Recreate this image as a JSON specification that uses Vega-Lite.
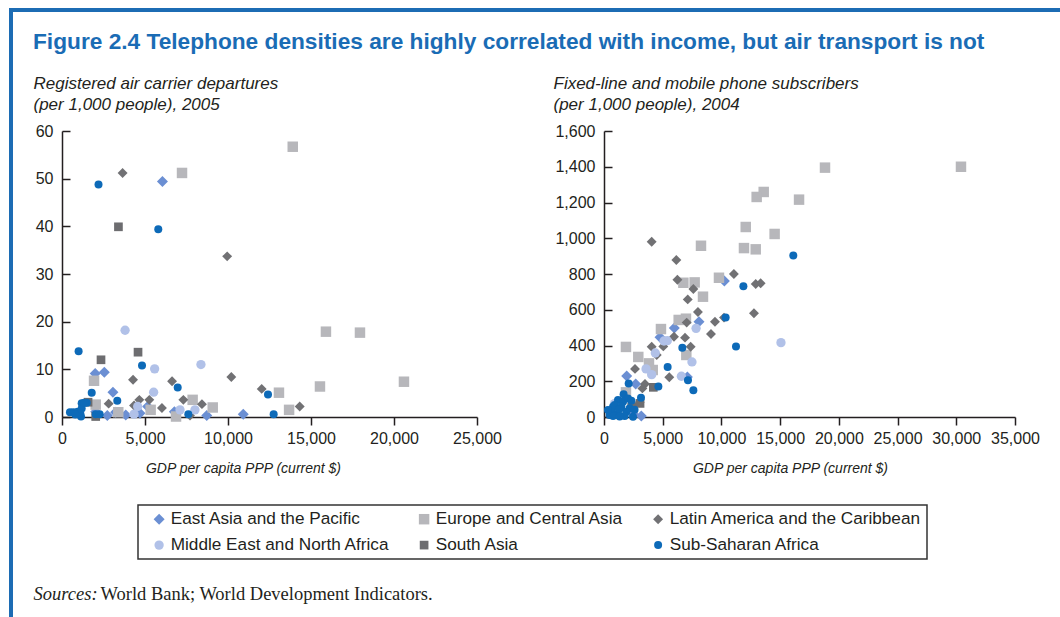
{
  "$schema": "https://vega.github.io/schema/vega-lite/v6.json",
  "padding": {"left": 9, "top": 8, "right": 0, "bottom": 0},
  "background": "white",
  "spacing": 0,
  "datasets": {
    "air": [
      {"region": "East Asia and the Pacific", "gdp": 6050, "v": 49.4},
      {"region": "East Asia and the Pacific", "gdp": 2000, "v": 9.1},
      {"region": "East Asia and the Pacific", "gdp": 2550, "v": 9.4},
      {"region": "East Asia and the Pacific", "gdp": 3070, "v": 5.2},
      {"region": "East Asia and the Pacific", "gdp": 5160, "v": 2.2},
      {"region": "East Asia and the Pacific", "gdp": 6770, "v": 1.1},
      {"region": "East Asia and the Pacific", "gdp": 8720, "v": 0.3},
      {"region": "East Asia and the Pacific", "gdp": 10920, "v": 0.6},
      {"region": "East Asia and the Pacific", "gdp": 3230, "v": 1.0},
      {"region": "East Asia and the Pacific", "gdp": 2730, "v": 0.3},
      {"region": "East Asia and the Pacific", "gdp": 3840, "v": 0.4},
      {"region": "East Asia and the Pacific", "gdp": 4700, "v": 0.8},
      {"region": "East Asia and the Pacific", "gdp": 2030, "v": 1.1},
      {"region": "Europe and Central Asia", "gdp": 7230, "v": 51.2},
      {"region": "Europe and Central Asia", "gdp": 13900, "v": 56.7},
      {"region": "Europe and Central Asia", "gdp": 15900, "v": 17.9},
      {"region": "Europe and Central Asia", "gdp": 17950, "v": 17.7},
      {"region": "Europe and Central Asia", "gdp": 20600, "v": 7.4},
      {"region": "Europe and Central Asia", "gdp": 15540, "v": 6.4},
      {"region": "Europe and Central Asia", "gdp": 13070, "v": 5.1},
      {"region": "Europe and Central Asia", "gdp": 13680, "v": 1.5},
      {"region": "Europe and Central Asia", "gdp": 1930, "v": 7.6},
      {"region": "Europe and Central Asia", "gdp": 7870, "v": 3.6},
      {"region": "Europe and Central Asia", "gdp": 9080, "v": 2.0},
      {"region": "Europe and Central Asia", "gdp": 2030, "v": 2.6},
      {"region": "Europe and Central Asia", "gdp": 5340, "v": 1.5},
      {"region": "Europe and Central Asia", "gdp": 6870, "v": 0.1},
      {"region": "Europe and Central Asia", "gdp": 3390, "v": 1.0},
      {"region": "Latin America and the Caribbean", "gdp": 3650, "v": 51.2},
      {"region": "Latin America and the Caribbean", "gdp": 9950, "v": 33.7},
      {"region": "Latin America and the Caribbean", "gdp": 4280, "v": 7.8},
      {"region": "Latin America and the Caribbean", "gdp": 6630, "v": 7.5},
      {"region": "Latin America and the Caribbean", "gdp": 10200, "v": 8.4},
      {"region": "Latin America and the Caribbean", "gdp": 12030, "v": 5.9},
      {"region": "Latin America and the Caribbean", "gdp": 14320, "v": 2.2},
      {"region": "Latin America and the Caribbean", "gdp": 7310, "v": 3.6},
      {"region": "Latin America and the Caribbean", "gdp": 8430, "v": 2.7},
      {"region": "Latin America and the Caribbean", "gdp": 2810, "v": 2.8},
      {"region": "Latin America and the Caribbean", "gdp": 4660, "v": 3.6},
      {"region": "Latin America and the Caribbean", "gdp": 5260, "v": 3.6},
      {"region": "Latin America and the Caribbean", "gdp": 4340, "v": 2.4},
      {"region": "Latin America and the Caribbean", "gdp": 6020, "v": 1.9},
      {"region": "Latin America and the Caribbean", "gdp": 7710, "v": 0.3},
      {"region": "Middle East and North Africa", "gdp": 3800, "v": 18.2},
      {"region": "Middle East and North Africa", "gdp": 5580, "v": 10.1},
      {"region": "Middle East and North Africa", "gdp": 8370, "v": 11.0},
      {"region": "Middle East and North Africa", "gdp": 5520, "v": 5.2},
      {"region": "Middle East and North Africa", "gdp": 4560, "v": 2.2},
      {"region": "Middle East and North Africa", "gdp": 7110, "v": 1.5},
      {"region": "Middle East and North Africa", "gdp": 8010, "v": 1.5},
      {"region": "Middle East and North Africa", "gdp": 4340, "v": 0.6},
      {"region": "South Asia", "gdp": 3400, "v": 39.9},
      {"region": "South Asia", "gdp": 2350, "v": 12.0},
      {"region": "South Asia", "gdp": 4580, "v": 13.6},
      {"region": "South Asia", "gdp": 1570, "v": 3.1},
      {"region": "South Asia", "gdp": 2030, "v": 0.1},
      {"region": "Sub-Saharan Africa", "gdp": 2200, "v": 48.8},
      {"region": "Sub-Saharan Africa", "gdp": 5800, "v": 39.4},
      {"region": "Sub-Saharan Africa", "gdp": 1000, "v": 13.8},
      {"region": "Sub-Saharan Africa", "gdp": 4820, "v": 10.8},
      {"region": "Sub-Saharan Africa", "gdp": 6970, "v": 6.2},
      {"region": "Sub-Saharan Africa", "gdp": 1790, "v": 5.1},
      {"region": "Sub-Saharan Africa", "gdp": 3330, "v": 3.4},
      {"region": "Sub-Saharan Africa", "gdp": 12410, "v": 4.7},
      {"region": "Sub-Saharan Africa", "gdp": 12750, "v": 0.6},
      {"region": "Sub-Saharan Africa", "gdp": 7610, "v": 0.6},
      {"region": "Sub-Saharan Africa", "gdp": 2030, "v": 0.6},
      {"region": "Sub-Saharan Africa", "gdp": 2270, "v": 0.6},
      {"region": "Sub-Saharan Africa", "gdp": 680, "v": 1.0},
      {"region": "Sub-Saharan Africa", "gdp": 945, "v": 1.1},
      {"region": "Sub-Saharan Africa", "gdp": 1145, "v": 0.1},
      {"region": "Sub-Saharan Africa", "gdp": 1185, "v": 2.9},
      {"region": "Sub-Saharan Africa", "gdp": 1490, "v": 3.0},
      {"region": "Sub-Saharan Africa", "gdp": 1185, "v": 1.8},
      {"region": "Sub-Saharan Africa", "gdp": 480, "v": 1.0},
      {"region": "Sub-Saharan Africa", "gdp": 1345, "v": 3.0},
      {"region": "Sub-Saharan Africa", "gdp": 1100, "v": 0.8},
      {"region": "Sub-Saharan Africa", "gdp": 800, "v": 0.5}
    ],
    "phone": [
      {"region": "East Asia and the Pacific", "gdp": 10250, "v": 761},
      {"region": "East Asia and the Pacific", "gdp": 8090, "v": 533},
      {"region": "East Asia and the Pacific", "gdp": 5990, "v": 498},
      {"region": "East Asia and the Pacific", "gdp": 4770, "v": 446},
      {"region": "East Asia and the Pacific", "gdp": 7100, "v": 224},
      {"region": "East Asia and the Pacific", "gdp": 1930, "v": 229},
      {"region": "East Asia and the Pacific", "gdp": 2700, "v": 185},
      {"region": "East Asia and the Pacific", "gdp": 2500, "v": 15},
      {"region": "East Asia and the Pacific", "gdp": 3180, "v": 5},
      {"region": "Europe and Central Asia", "gdp": 18820, "v": 1395},
      {"region": "Europe and Central Asia", "gdp": 30400, "v": 1400},
      {"region": "Europe and Central Asia", "gdp": 16610, "v": 1216},
      {"region": "Europe and Central Asia", "gdp": 13600, "v": 1259},
      {"region": "Europe and Central Asia", "gdp": 13000, "v": 1231},
      {"region": "Europe and Central Asia", "gdp": 12070, "v": 1063},
      {"region": "Europe and Central Asia", "gdp": 14530, "v": 1024},
      {"region": "Europe and Central Asia", "gdp": 8260, "v": 958},
      {"region": "Europe and Central Asia", "gdp": 11920, "v": 945},
      {"region": "Europe and Central Asia", "gdp": 12920, "v": 938},
      {"region": "Europe and Central Asia", "gdp": 9790, "v": 779},
      {"region": "Europe and Central Asia", "gdp": 6760, "v": 751},
      {"region": "Europe and Central Asia", "gdp": 7720, "v": 753},
      {"region": "Europe and Central Asia", "gdp": 8430, "v": 673},
      {"region": "Europe and Central Asia", "gdp": 6980, "v": 550},
      {"region": "Europe and Central Asia", "gdp": 6360, "v": 543},
      {"region": "Europe and Central Asia", "gdp": 4850, "v": 492},
      {"region": "Europe and Central Asia", "gdp": 7010, "v": 347},
      {"region": "Europe and Central Asia", "gdp": 1870, "v": 392},
      {"region": "Europe and Central Asia", "gdp": 2920, "v": 336},
      {"region": "Europe and Central Asia", "gdp": 3830, "v": 300},
      {"region": "Europe and Central Asia", "gdp": 4150, "v": 263},
      {"region": "Europe and Central Asia", "gdp": 1870, "v": 138},
      {"region": "Latin America and the Caribbean", "gdp": 4060, "v": 980},
      {"region": "Latin America and the Caribbean", "gdp": 6160, "v": 878},
      {"region": "Latin America and the Caribbean", "gdp": 11060, "v": 800},
      {"region": "Latin America and the Caribbean", "gdp": 6250, "v": 768},
      {"region": "Latin America and the Caribbean", "gdp": 12920, "v": 744},
      {"region": "Latin America and the Caribbean", "gdp": 13340, "v": 748},
      {"region": "Latin America and the Caribbean", "gdp": 7610, "v": 716},
      {"region": "Latin America and the Caribbean", "gdp": 7130, "v": 658},
      {"region": "Latin America and the Caribbean", "gdp": 8000, "v": 587},
      {"region": "Latin America and the Caribbean", "gdp": 7040, "v": 528},
      {"region": "Latin America and the Caribbean", "gdp": 9450, "v": 533},
      {"region": "Latin America and the Caribbean", "gdp": 10220, "v": 556},
      {"region": "Latin America and the Caribbean", "gdp": 12770, "v": 580},
      {"region": "Latin America and the Caribbean", "gdp": 9110, "v": 464},
      {"region": "Latin America and the Caribbean", "gdp": 5960, "v": 449},
      {"region": "Latin America and the Caribbean", "gdp": 6900, "v": 444},
      {"region": "Latin America and the Caribbean", "gdp": 7380, "v": 393},
      {"region": "Latin America and the Caribbean", "gdp": 5050, "v": 395},
      {"region": "Latin America and the Caribbean", "gdp": 4060, "v": 393},
      {"region": "Latin America and the Caribbean", "gdp": 4490, "v": 347},
      {"region": "Latin America and the Caribbean", "gdp": 2640, "v": 269},
      {"region": "Latin America and the Caribbean", "gdp": 5560, "v": 222},
      {"region": "Latin America and the Caribbean", "gdp": 3490, "v": 185},
      {"region": "Latin America and the Caribbean", "gdp": 3270, "v": 160},
      {"region": "Latin America and the Caribbean", "gdp": 3040, "v": 82},
      {"region": "Middle East and North Africa", "gdp": 7840, "v": 496},
      {"region": "Middle East and North Africa", "gdp": 15070, "v": 416},
      {"region": "Middle East and North Africa", "gdp": 5110, "v": 425},
      {"region": "Middle East and North Africa", "gdp": 5390, "v": 427},
      {"region": "Middle East and North Africa", "gdp": 4370, "v": 358},
      {"region": "Middle East and North Africa", "gdp": 7490, "v": 308},
      {"region": "Middle East and North Africa", "gdp": 3580, "v": 269},
      {"region": "Middle East and North Africa", "gdp": 4060, "v": 237},
      {"region": "Middle East and North Africa", "gdp": 6590, "v": 228},
      {"region": "Middle East and North Africa", "gdp": 900, "v": 75},
      {"region": "South Asia", "gdp": 4200, "v": 166},
      {"region": "South Asia", "gdp": 2360, "v": 54},
      {"region": "South Asia", "gdp": 3070, "v": 76},
      {"region": "Sub-Saharan Africa", "gdp": 16120, "v": 904},
      {"region": "Sub-Saharan Africa", "gdp": 11870, "v": 731},
      {"region": "Sub-Saharan Africa", "gdp": 10360, "v": 556},
      {"region": "Sub-Saharan Africa", "gdp": 11240, "v": 395},
      {"region": "Sub-Saharan Africa", "gdp": 6670, "v": 388},
      {"region": "Sub-Saharan Africa", "gdp": 5420, "v": 280},
      {"region": "Sub-Saharan Africa", "gdp": 7150, "v": 205},
      {"region": "Sub-Saharan Africa", "gdp": 7610, "v": 149},
      {"region": "Sub-Saharan Africa", "gdp": 2100, "v": 188},
      {"region": "Sub-Saharan Africa", "gdp": 4630, "v": 170},
      {"region": "Sub-Saharan Africa", "gdp": 3150, "v": 108},
      {"region": "Sub-Saharan Africa", "gdp": 1670, "v": 127},
      {"region": "Sub-Saharan Africa", "gdp": 770, "v": 58},
      {"region": "Sub-Saharan Africa", "gdp": 1190, "v": 95},
      {"region": "Sub-Saharan Africa", "gdp": 1620, "v": 86},
      {"region": "Sub-Saharan Africa", "gdp": 2040, "v": 104},
      {"region": "Sub-Saharan Africa", "gdp": 2330, "v": 91},
      {"region": "Sub-Saharan Africa", "gdp": 2190, "v": 49},
      {"region": "Sub-Saharan Africa", "gdp": 1190, "v": 21},
      {"region": "Sub-Saharan Africa", "gdp": 620, "v": 30},
      {"region": "Sub-Saharan Africa", "gdp": 910, "v": 67},
      {"region": "Sub-Saharan Africa", "gdp": 1480, "v": 58},
      {"region": "Sub-Saharan Africa", "gdp": 1900, "v": 30},
      {"region": "Sub-Saharan Africa", "gdp": 2470, "v": 2},
      {"region": "Sub-Saharan Africa", "gdp": 480, "v": 11},
      {"region": "Sub-Saharan Africa", "gdp": 1050, "v": 11},
      {"region": "Sub-Saharan Africa", "gdp": 770, "v": 5},
      {"region": "Sub-Saharan Africa", "gdp": 1760, "v": 6},
      {"region": "Sub-Saharan Africa", "gdp": 1330, "v": 3},
      {"region": "Sub-Saharan Africa", "gdp": 340, "v": 39},
      {"region": "Sub-Saharan Africa", "gdp": 1300, "v": 45},
      {"region": "Sub-Saharan Africa", "gdp": 2600, "v": 40}
    ],
    "empty": [],
    "src1": [{"t": "Sources:"}],
    "src2": [{"t": "World Bank; World Development Indicators."}]
  },
  "vconcat": [
    {
      "width": 1051, "height": 4,
      "data": {"name": "empty"},
      "mark": "point",
      "encoding": {},
      "view": {"fill": "#1c6cb4", "stroke": null}
    },
    {
      "spacing": 20,
      "hconcat": [
        {
          "width": 4, "height": 605,
          "data": {"name": "empty"},
          "mark": "point",
          "encoding": {},
          "view": {"fill": "#1c6cb4", "stroke": null}
        },
        {
          "spacing": 110,
          "vconcat": [
            {
              "spacing": 18,
              "vconcat": [
                {
                  "width": 1, "height": 1,
                  "data": {"name": "empty"},
                  "mark": "point",
                  "encoding": {},
                  "view": {"stroke": null}
                },
                {
                  "title": {"text": "Figure 2.4  Telephone densities are highly correlated with income, but air transport is not"},
                  "spacing": 51,
                  "hconcat": [
                    {
                      "width": 415, "height": 286,
                      "data": {"name": "air"},
                      "mark": {"type": "point", "filled": true, "opacity": 1, "strokeWidth": 0},
                      "encoding": {
                        "x": {"field": "gdp", "type": "quantitative",
                          "scale": {"domain": [0, 25000], "nice": false},
                          "axis": {"values": [0, 5000, 10000, 15000, 20000, 25000], "format": ",d",
                            "title": "GDP per capita PPP (current $)", "titleX": 181, "titleY": 55}},
                        "y": {"field": "v", "type": "quantitative",
                          "scale": {"domain": [0, 60], "nice": false},
                          "axis": {"values": [0, 10, 20, 30, 40, 50, 60],
                            "title": ["Registered air carrier departures", "(per 1,000 people), 2005"],
                            "titleX": -29, "titleY": -43}},
                        "color": {"field": "region", "type": "nominal",
                          "scale": {"domain": ["East Asia and the Pacific", "Europe and Central Asia", "Latin America and the Caribbean", "Middle East and North Africa", "South Asia", "Sub-Saharan Africa"],
                            "range": ["#6b8fd3", "#b7b7bb", "#717174", "#b1c1e8", "#6d6d70", "#0d6ab8"]},
                          "legend": {"title": null, "orient": "none", "legendX": 129, "legendY": 497, "direction": "horizontal"}},
                        "shape": {"field": "region", "type": "nominal",
                          "scale": {"domain": ["East Asia and the Pacific", "Europe and Central Asia", "Latin America and the Caribbean", "Middle East and North Africa", "South Asia", "Sub-Saharan Africa"],
                            "range": ["diamond", "square", "diamond", "circle", "square", "circle"]},
                          "legend": {"title": null, "orient": "none", "legendX": 129, "legendY": 497, "direction": "horizontal"}},
                        "size": {"field": "region", "type": "nominal",
                          "scale": {"domain": ["East Asia and the Pacific", "Europe and Central Asia", "Latin America and the Caribbean", "Middle East and North Africa", "South Asia", "Sub-Saharan Africa"],
                            "range": [121, 64, 121, 81, 64, 81]},
                          "legend": null}
                      }
                    },
                    {
                      "width": 411, "height": 286,
                      "data": {"name": "phone"},
                      "mark": {"type": "point", "filled": true, "opacity": 1, "strokeWidth": 0},
                      "encoding": {
                        "x": {"field": "gdp", "type": "quantitative",
                          "scale": {"domain": [0, 35000], "nice": false},
                          "axis": {"values": [0, 5000, 10000, 15000, 20000, 25000, 30000, 35000], "format": ",d",
                            "title": "GDP per capita PPP (current $)", "titleX": 186, "titleY": 55}},
                        "y": {"field": "v", "type": "quantitative",
                          "scale": {"domain": [0, 1600], "nice": false},
                          "axis": {"values": [0, 200, 400, 600, 800, 1000, 1200, 1400, 1600], "format": ",d",
                            "title": ["Fixed-line and mobile phone subscribers", "(per 1,000 people), 2004"],
                            "titleX": -51, "titleY": -43}},
                        "color": {"field": "region", "type": "nominal",
                          "scale": {"domain": ["East Asia and the Pacific", "Europe and Central Asia", "Latin America and the Caribbean", "Middle East and North Africa", "South Asia", "Sub-Saharan Africa"],
                            "range": ["#6b8fd3", "#b7b7bb", "#717174", "#b1c1e8", "#6d6d70", "#0d6ab8"]},
                          "legend": {"title": null, "orient": "none", "legendX": 129, "legendY": 497, "direction": "horizontal"}},
                        "shape": {"field": "region", "type": "nominal",
                          "scale": {"domain": ["East Asia and the Pacific", "Europe and Central Asia", "Latin America and the Caribbean", "Middle East and North Africa", "South Asia", "Sub-Saharan Africa"],
                            "range": ["diamond", "square", "diamond", "circle", "square", "circle"]},
                          "legend": {"title": null, "orient": "none", "legendX": 129, "legendY": 497, "direction": "horizontal"}},
                        "size": {"field": "region", "type": "nominal",
                          "scale": {"domain": ["East Asia and the Pacific", "Europe and Central Asia", "Latin America and the Caribbean", "Middle East and North Africa", "South Asia", "Sub-Saharan Africa"],
                            "range": [121, 64, 121, 81, 64, 81]},
                          "legend": null}
                      }
                    }
                  ]
                }
              ]
            },
            {
              "width": 1, "height": 2,
              "view": {"stroke": null},
              "layer": [
                {
                  "data": {"name": "src1"},
                  "mark": {"type": "text", "align": "left", "baseline": "alphabetic", "font": "Liberation Serif", "fontSize": 18.5, "fontStyle": "italic", "color": "#231f20", "dx": -29},
                  "encoding": {"text": {"field": "t"}}
                },
                {
                  "data": {"name": "src2"},
                  "mark": {"type": "text", "align": "left", "baseline": "alphabetic", "font": "Liberation Serif", "fontSize": 18.5, "dx": 38, "color": "#231f20"},
                  "encoding": {"text": {"field": "t"}}
                }
              ]
            }
          ]
        }
      ]
    }
  ],
  "config": {
    "view": {"stroke": null},
    "font": "Liberation Sans",
    "title": {"font": "Liberation Sans", "fontSize": 22.7, "fontWeight": "bold", "color": "#1a6cb5", "anchor": "start", "offset": 20},
    "axis": {
      "grid": false,
      "labelOverlap": false,
      "labelFlush": false,
      "domainColor": "#231f20", "domainWidth": 1.5,
      "tickColor": "#231f20", "tickWidth": 1.5,
      "labelFont": "Liberation Sans", "labelFontSize": 16, "labelColor": "#231f20",
      "titleFont": "Liberation Sans", "titleFontSize": 14, "titleFontStyle": "italic", "titleFontWeight": "normal", "titleColor": "#231f20"
    },
    "axisX": {"tickSize": 8, "labelPadding": 5, "titleBaseline": "alphabetic", "titleAlign": "center"},
    "axisY": {"tickSize": -8, "labelPadding": 17, "titleAngle": 0, "titleAlign": "left", "titleBaseline": "alphabetic", "titleLineHeight": 21, "titleFontSize": 17},
    "legend": {
      "columns": 3, "labelFont": "Liberation Sans", "labelFontSize": 17.2, "labelColor": "#231f20", "labelLimit": 0,
      "symbolSize": 55, "symbolStrokeWidth": 0, "labelOffset": 3, "columnPadding": 19, "rowPadding": 8,
      "padding": 5.5, "strokeColor": "#333333", "strokeWidth": 1.5, "fillColor": "white", "symbolOffset": 7
    }
  }
}
